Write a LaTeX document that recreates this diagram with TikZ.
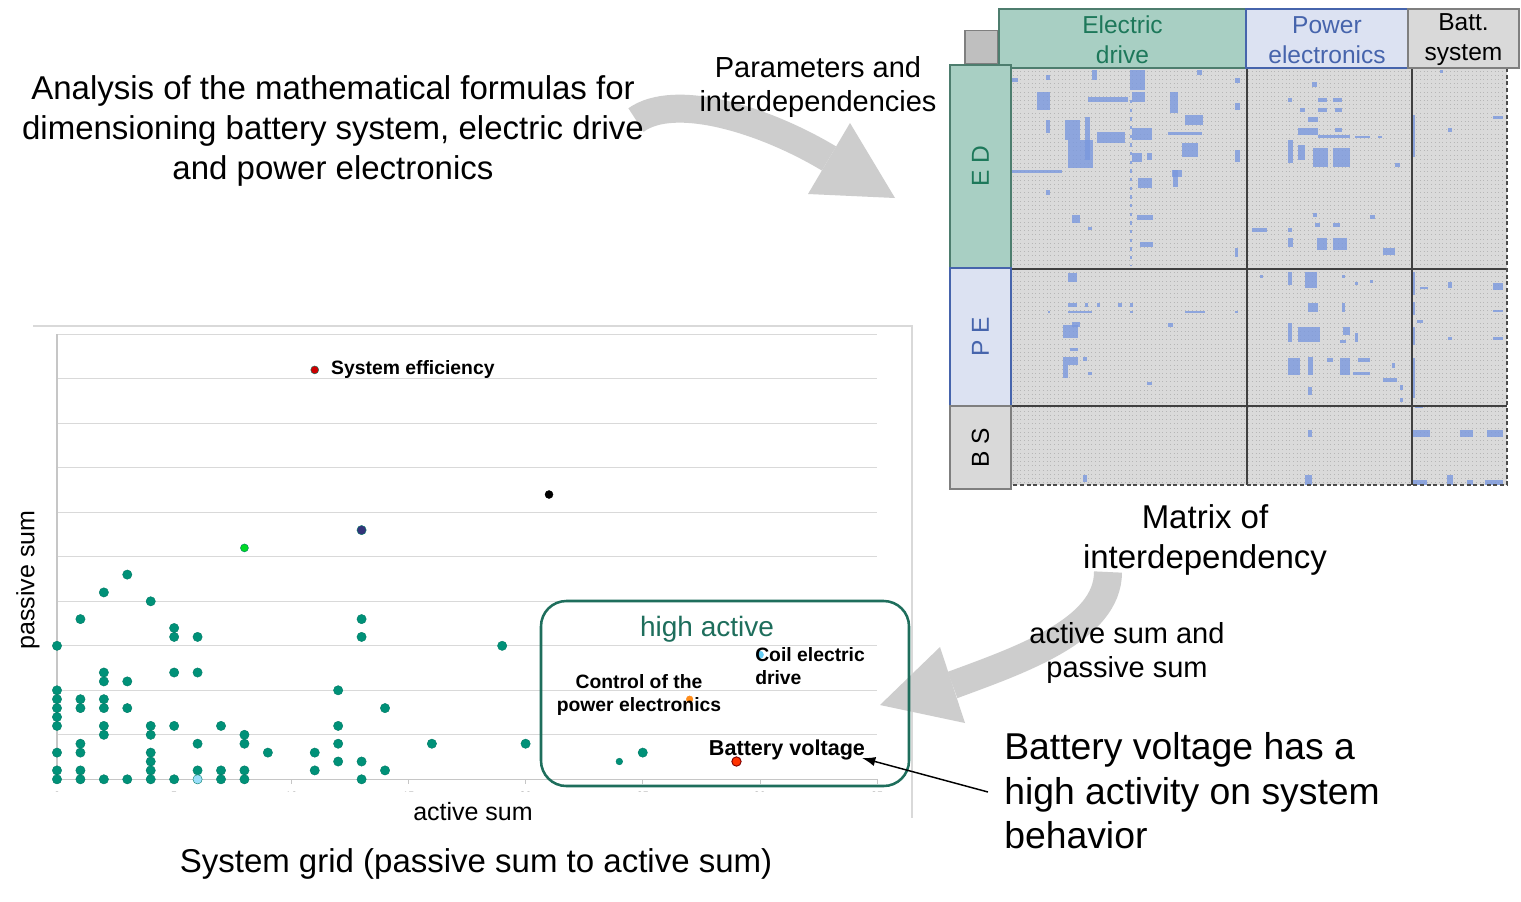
\documentclass[tikz,border=0pt]{standalone}
\usepackage{fontspec}
\setmainfont{Liberation Sans}
\usetikzlibrary{positioning, arrows.meta}
\definecolor{edfill}{RGB}{168,207,195}
\definecolor{eddraw}{RGB}{77,125,110}
\definecolor{edtext}{RGB}{29,120,90}
\definecolor{pefill}{RGB}{220,226,242}
\definecolor{pedraw}{RGB}{70,100,172}
\definecolor{bsfill}{RGB}{217,217,217}
\definecolor{bsdraw}{RGB}{127,127,127}
\definecolor{matgray}{RGB}{218,218,218}
\definecolor{matdot}{RGB}{182,182,182}
\definecolor{matblue}{RGB}{122,152,222}
\definecolor{arrowgray}{RGB}{205,205,205}
\definecolor{dotteal}{RGB}{0,145,120}
\definecolor{boxteal}{RGB}{30,110,92}
\definecolor{gridgray}{RGB}{217,217,217}
\tikzset{
    bigtext/.style  = {draw=none, inner sep=0em, align=center, font=\fontsize{24.75}{30}\selectfont},
    midtext/.style  = {draw=none, inner sep=0em, align=center, font=\fontsize{21.75}{25.5}\selectfont},
    notetext/.style = {draw=none, inner sep=0em, align=left, font=\fontsize{28}{33.4}\selectfont},
    axistext/.style = {draw=none, inner sep=0em, font=\fontsize{18.75}{22}\selectfont},
    ticktext/.style = {draw=none, inner sep=0em, text=gray, font=\fontsize{8}{9}\selectfont},
    dotlabel/.style = {draw=none, inner sep=0em, align=center, font=\fontsize{14.5}{17.3}\selectfont\bfseries},
    headbox/.style  = {draw, rectangle, line width=2.2pt, inner sep=0em, align=center,
      font=\fontsize{18.4}{22.5}\selectfont},
    headtext/.style = {draw=none, inner sep=0em, align=center, font=\fontsize{18.4}{22.5}\selectfont},
    datadot/.style  = {circle, fill=dotteal, draw=dotteal!85!black, line width=0.3pt, inner sep=0em, minimum size=7pt},
    bigarrow/.style = {arrowgray, line width=21pt},
    pointer/.style  = {-{Latex[length=10pt, width=7pt]}, line width=1.1pt}
}

\begin{document}
\begin{tikzpicture}[x=0.75pt, y=-0.75pt]
    \useasboundingbox (0,0) rectangle (1521,901);
    \fill[white] (0,0) rectangle (1521,901);

    % matrix of interdependency
    \fill[matgray] (1011,68) rectangle (1507,485);
    \foreach \yy in {71,75.2,...,484}
        \draw[matdot, line width=0.5pt, dash pattern=on 0.5pt off 2.3pt] (1013,\yy) -- (1505,\yy);
    \foreach \xa/\ya/\xb/\yb in {1130/70/1145/90, 1037/92/1050/110, 1088/97/1128/102, 1132/92/1145/102,
        1170/92/1178/113, 1065/120/1080/140, 1068/140/1093/168, 1085/117/1090/160, 1097/132/1125/143,
        1132/128/1152/140, 1168/132/1202/135, 1182/143/1198/157, 1132/153/1142/162, 1147/153/1152/160,
        1235/150/1240/162, 1012/170/1062/173, 1172/170/1182/177, 1138/178/1152/188, 1137/215/1153/220,
        1072/215/1080/223, 1140/242/1153/247, 1235/248/1238/257, 1235/78/1240/83, 1046/75/1050/80,
        1046/120/1050/133, 1046/190/1050/195, 1185/115/1203/125, 1235/103/1240/110, 1092/70/1097/80,
        1197/70/1202/75, 1173/170/1178/187, 1088/227/1092/230, 1012/78/1018/82,
        1312/82/1317/87, 1288/98/1292/102, 1318/98/1327/102, 1333/98/1342/102, 1300/108/1305/112,
        1318/108/1327/112, 1335/108/1342/112, 1308/117/1318/122, 1298/128/1318/135, 1318/135/1350/138,
        1355/136/1370/138, 1378/136/1382/138, 1335/128/1342/132, 1288/140/1293/163, 1298/145/1305/160,
        1313/148/1328/167, 1333/148/1350/167, 1395/163/1400/167, 1412/115/1415/157, 1448/128/1452/132,
        1493/116/1503/119, 1313/213/1317/217, 1315/223/1320/227, 1333/223/1340/227, 1370/215/1375/219,
        1252/228/1267/232, 1288/228/1292/232, 1288/238/1293/247, 1317/238/1327/250, 1333/238/1347/250,
        1383/248/1395/255, 1440/70/1443/73,
        1068/273/1077/282, 1068/303/1077/307, 1085/303/1088/307, 1097/303/1100/307, 1118/303/1122/307,
        1130/303/1133/307, 1048/311/1050/313, 1068/311/1092/313, 1130/311/1133/313, 1185/311/1205/313,
        1235/311/1238/313, 1063/325/1078/338, 1072/322/1080/327, 1168/323/1173/327, 1070/348/1078/351,
        1063/357/1078/365, 1083/357/1087/361, 1063/365/1068/378, 1088/372/1092/375, 1147/382/1152/385,
        1083/475/1087/482,
        1260/275/1263/278, 1288/272/1292/285, 1305/272/1317/288, 1342/275/1345/278, 1355/282/1358/285,
        1370/280/1373/283, 1412/272/1415/295, 1420/287/1428/289, 1448/282/1452/288, 1493/283/1503/290,
        1308/303/1318/312, 1342/303/1345/312, 1493/310/1503/312, 1412/302/1415/315, 1417/320/1423/323,
        1288/323/1292/342, 1298/327/1320/342, 1343/327/1350/335, 1355/333/1358/342, 1340/340/1346/343,
        1412/327/1415/345, 1448/337/1452/340, 1493/337/1503/340, 1288/358/1300/375, 1308/357/1313/375,
        1327/358/1333/362, 1340/358/1350/375, 1358/358/1370/362, 1353/372/1370/375, 1383/378/1397/382,
        1392/363/1395/368, 1412/358/1415/398, 1308/387/1312/395, 1400/385/1403/390, 1400/398/1403/402,
        1415/405/1423/408, 1308/430/1312/437, 1412/430/1430/437, 1460/430/1473/437, 1487/430/1503/437,
        1305/475/1312/485, 1412/480/1427/485, 1447/475/1453/485, 1467/480/1473/485, 1485/480/1503/485}
        \fill[matblue, opacity=0.8] (\xa,\ya) rectangle (\xb,\yb);
    \draw[matblue, opacity=0.8, line width=2.2pt, dash pattern=on 2.5pt off 4pt] (1131,100) -- (1131,265);
    \draw[black!75, line width=0.8pt] (1247,68) -- (1247,485) (1412,68) -- (1412,485)
        (1011,269) -- (1507,269) (1011,406) -- (1507,406);
    \draw[black!70, line width=0.8pt, densely dashed] (1507,68) -- (1507,485) -- (1011,485);

    % headers of the matrix
    \node[name=corner, draw=bsdraw, fill=gray!50, line width=1pt, minimum size=24.75pt] at (981.5,47) {};
    \node[name=hED, headbox, fill=edfill, draw=eddraw, minimum width=185.25pt, minimum height=44.25pt] at (1122.5,38.5) {};
    \node[name=hPE, headbox, fill=pefill, draw=pedraw, minimum width=121.5pt, minimum height=44.25pt] at (1327,38.5) {};
    \node[name=hBS, headbox, fill=bsfill, draw=bsdraw, minimum width=83.25pt, minimum height=44.25pt] at (1463.5,38.5) {};
    \node[name=tED, headtext, text=edtext] at ([yshift=-1pt]hED.center) {Electric\\drive};
    \node[name=tPE, headtext, text=pedraw] at ([yshift=-1pt]hPE.center) {Power\\electronics};
    \node[name=tBS, headtext] at ([yshift=-1pt]hBS.center) {Batt.\\system};
    \node[name=rED, headbox, rotate=90, fill=edfill, draw=eddraw, text=edtext, minimum width=152.25pt,
        minimum height=45.75pt] at (980.5,166.5) {E D};
    \node[name=rPE, headbox, rotate=90, fill=pefill, draw=pedraw, text=pedraw, minimum width=103.5pt,
        minimum height=45.75pt] at (980.5,337) {P E};
    \node[name=rBS, headbox, rotate=90, fill=bsfill, draw=bsdraw, minimum width=62.25pt,
        minimum height=45.75pt] at (980.5,447.5) {B S};

    % system grid
    \draw[gridgray, line width=0.8pt] (33,326) -- (912,326) -- (912,818);
    \foreach \k in {1,...,10}
        \draw[gridgray, line width=0.8pt] (57,{779.3-44.5*\k}) -- (877,{779.3-44.5*\k});
    \draw[gray!45, line width=0.8pt] (57,334) -- (57,779.3) -- (877,779.3);
    \foreach \t in {0,5,...,35}
        \draw[gray!45, line width=0.6pt] ({57+23.43*\t},779.3) -- ({57+23.43*\t},784);
    \begin{scope}
        \clip (40,781) rectangle (900,791.5);
        \foreach \t in {0,5,...,35}
            \node[name=tk\t, ticktext] at ({57+23.43*\t},796) {\t};
    \end{scope}

    % big grey arrows
    \coordinate (a1s) at (636,120);
    \coordinate (a1e) at (829,158.5);
    \draw[bigarrow] (a1s) .. controls (675,92) and (765,120) .. (a1e);
    \fill[arrowgray] (850,123) -- (895,198) -- (808,194) -- cycle;
    \coordinate (a2s) at (1108,572);
    \coordinate (a2e) at (952.5,685);
    \draw[bigarrow] (a2s) .. controls (1108,630) and (1020,660) .. (a2e);
    \fill[arrowgray] (940,647) -- (880,705) -- (965,723) -- cycle;

    \foreach \px/\py [count=\i] in {3/23, 2/21, 4/20, 1/18, 5/17, 5/16, 6/16, 13/18, 13/16, 0/15, 19/15,
        2/12, 5/12, 6/12, 2/11, 3/11, 0/10, 12/10, 0/9, 1/9, 2/9, 0/8, 1/8, 2/8, 3/8, 14/8, 0/7, 0/6,
        2/6, 4/6, 5/6, 7/6, 12/6, 2/5, 4/5, 8/5, 1/4, 6/4, 8/4, 12/4, 16/4, 20/4, 0/3, 1/3, 4/3, 9/3,
        11/3, 25/3, 4/2, 12/2, 13/2, 0/1, 1/1, 4/1, 6/1, 7/1, 8/1, 11/1, 14/1, 0/0, 1/0, 2/0, 3/0, 4/0,
        5/0, 7/0, 8/0, 13/0}
        \node[name=d\i, datadot] at ({57+23.43*\px},{779.3-8.9*\py}) {};
    \node[name=effdot, datadot, fill=red!80!black, minimum size=6pt] at ({57+23.43*11},{779.3-8.9*46}) {};
    \node[name=bluedot, datadot, fill=blue!35!black!80] at ({57+23.43*13},{779.3-8.9*28}) {};
    \node[name=greendot, datadot, fill=green!70!teal, minimum size=6pt] at ({57+23.43*8},{779.3-8.9*26}) {};
    \node[name=blackdot, datadot, fill=black, draw=black, minimum size=6pt] at ({57+23.43*21},{779.3-8.9*32}) {};
    \node[name=hollowdot, datadot, fill=cyan!40] at ({57+23.43*6},779.3) {};
    \node[name=smalldot, datadot, minimum size=5pt] at ({57+23.43*24},{779.3-8.9*2}) {};
    \node[name=ctrldot, datadot, fill=orange!90, draw=orange!90, minimum size=5pt] at ({57+23.43*27},{779.3-8.9*9}) {};
    \node[name=battdot, datadot, fill=red!60!orange, draw=red!50!black, line width=0.7pt] at ({57+23.43*29},{779.3-8.9*2}) {};
    \node[name=coildot, datadot, fill=cyan!60, draw=cyan!60, minimum size=5.5pt] at ({57+23.43*30},{779.3-8.9*14}) {};

    \node[name=hibox, draw=boxteal, line width=1.9pt, rounded corners=19pt, minimum width=276pt,
        minimum height=138.75pt] at (725,693.5) {};
    \node[name=hilabel, text=boxteal, inner sep=0em, font=\fontsize{21}{24}\selectfont] at (707,629.5) {high active};

    \node[name=efflabel, dotlabel, anchor=west, right=9pt of effdot] {System efficiency};
    \node[name=coillabel, dotlabel, align=left, anchor=west] at (755,666) {Coil electric\\drive};
    \node[name=ctrllabel, dotlabel] at (639,695) {Control of the\\power electronics};
    \node[name=battlabel, dotlabel, font=\fontsize{16.2}{18}\selectfont\bfseries] at (787,750) {Battery voltage};

    \node[name=ylabel, axistext, rotate=90] at (28,580) {passive sum};
    \node[name=xlabel, axistext] at (473,812) {active sum};

    % texts
    \node[name=analysis, bigtext] at (333,131)
        {Analysis of the mathematical formulas for\\dimensioning battery system, electric drive\\and power electronics};
    \node[name=params, midtext] at (818,87) {Parameters and\\interdependencies};
    \node[name=matrixlabel, bigtext] at (1205,540) {Matrix of\\interdependency};
    \node[name=sums, midtext] at (1127,653) {active sum and\\passive sum};
    \node[name=note, notetext, anchor=west] at (1004,791)
        {Battery voltage has a\\high activity on system\\behavior};
    \node[name=gridlabel, bigtext] at (476,864) {System grid (passive sum to active sum)};

    \coordinate (ptail) at (988,792);
    \coordinate (ptip) at (862,758);
    \draw[pointer] (ptail) -- (ptip);
\end{tikzpicture}
\end{document}
